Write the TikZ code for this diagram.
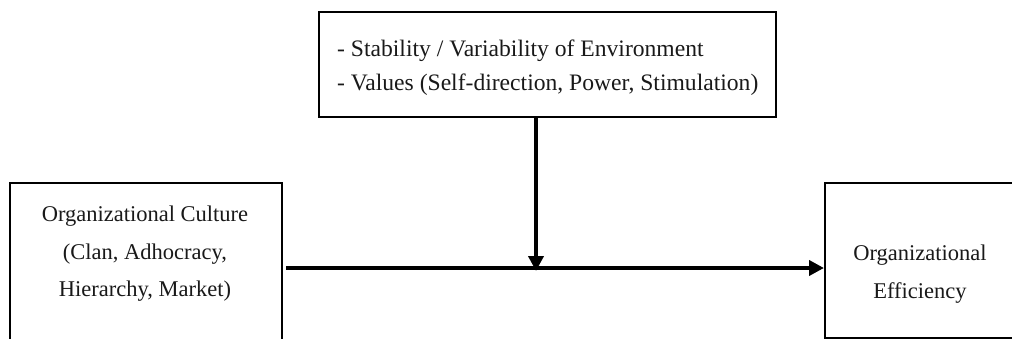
\documentclass[tikz,border=0pt]{standalone}
\usepackage{fontspec}
\setmainfont{Liberation Serif}
\usetikzlibrary{arrows.meta}
\begin{document}
\begin{tikzpicture}[x=1pt,y=-1pt,
  box/.style={draw=black, line width=2pt, inner sep=0pt, anchor=north west},
  lbl/.style={font=\fontsize{22.5}{26}\selectfont, text=black!90, inner sep=0pt},
  toplbl/.style={lbl, font=\fontsize{23.6}{27}\selectfont, anchor=base west},
  conn/.style={line width=4pt, -{Triangle[length=15pt,width=15pt]}}]
\useasboundingbox (0,0) rectangle (1012,339);
\clip (0,0) rectangle (1012,339);
% top box
\node[box, minimum width=457pt, minimum height=105pt] (top) at (318,11) {};
\node[toplbl] (t1) at (337,57) {- Stability / Variability of Environment};
\node[toplbl] (t2) at (337,91) {- Values (Self-direction, Power, Stimulation)};
% left box
\node[box, minimum width=272pt, minimum height=230pt] (left) at (9,182) {};
\node[lbl, anchor=base] (l1) at (145,222) {Organizational Culture};
\node[lbl, anchor=base] (l2) at (145,259) {(Clan, Adhocracy,};
\node[lbl, anchor=base] (l3) at (145,296) {Hierarchy, Market)};
% right box
\node[box, minimum width=300pt, minimum height=155pt] (right) at (824,182) {};
\node[lbl, anchor=base] (r1) at (920,261) {Organizational};
\node[lbl, anchor=base] (r2) at (920,298) {Efficiency};
% connectors
\coordinate (hstart) at (286,268);
\coordinate (vend) at (536,271);
\draw[conn] (hstart) -- (right.west |- hstart);
\draw[conn] (top.south -| vend) -- (vend);
\end{tikzpicture}
\end{document}
